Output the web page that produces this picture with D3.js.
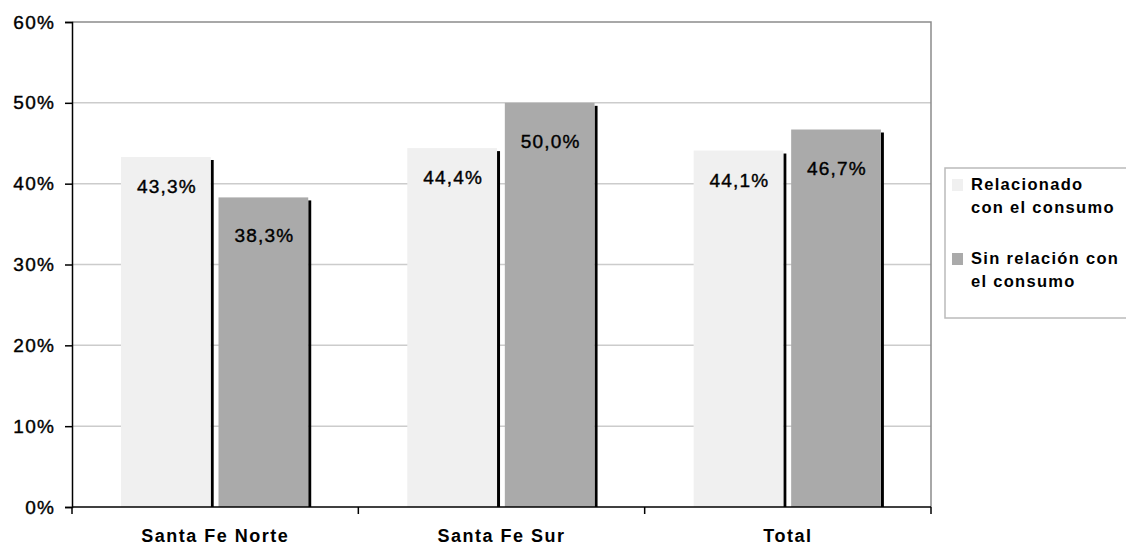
<!DOCTYPE html>
<html>
<head>
<meta charset="utf-8">
<script src="https://cdn.jsdelivr.net/npm/d3@7"></script>
<style>
  body { margin: 0; background: #fff; }
  text { font-family: "Liberation Sans", Arial, sans-serif; fill: #000; }
</style>
</head>
<body>
<div id="canvas"></div>
<script>
const categories = ["Santa Fe Norte", "Santa Fe Sur", "Total"];
const seriesNames = ["Relacionado con el consumo", "Sin relación con el consumo"];
const legendLines = [["Relacionado", "con el consumo"], ["Sin relación con", "el consumo"]];
const relacionado = [43.3, 44.4, 44.1];
const sinRelacion = [38.3, 50.0, 46.7];
const yTicks = [0, 10, 20, 30, 40, 50, 60];

const colors = ["#f0f0f0", "#aaaaaa"];
const labelOffset = [36, 45];

const width = 1126, height = 547;
const plotLeft = 72, plotRight = 931, plotTop = 22, plotBottom = 507;

const svg = d3.select("#canvas").append("svg")
    .attr("width", width)
    .attr("height", height);

const x0 = d3.scaleBand()
    .domain(categories)
    .range([plotLeft, plotRight]);

const x1 = d3.scaleBand()
    .domain(d3.range(seriesNames.length))
    .range([x0.bandwidth() * 0.171, x0.bandwidth() * 0.825])
    .paddingInner(0.08);

const y = d3.scaleLinear()
    .domain([0, 60])
    .range([plotBottom, plotTop]);

const locale = d3.formatLocale({ decimal: ",", thousands: ".", grouping: [3], currency: ["", ""] });
const fmt = locale.format(".1f");

// gridlines
svg.append("g")
    .selectAll("line")
    .data(yTicks.filter(d => d > 0 && d < 60))
    .join("line")
    .attr("x1", plotLeft)
    .attr("x2", plotRight)
    .attr("y1", d => y(d))
    .attr("y2", d => y(d))
    .attr("stroke", "#cccccc")
    .attr("stroke-width", 1.5);

// plot border top/right
svg.append("path")
    .attr("d", `M${plotLeft},${y(60)}H${plotRight}V${plotBottom}`)
    .attr("fill", "none")
    .attr("stroke", "#8c8c8c")
    .attr("stroke-width", 1.5);

const data = categories.map((c, i) => ({ cat: c, values: [relacionado[i], sinRelacion[i]] }));

const groups = svg.append("g")
    .selectAll("g")
    .data(data)
    .join("g")
    .attr("transform", d => `translate(${x0(d.cat)},0)`);

const bars = groups.selectAll("g.bar")
    .data(d => d.values.map((v, s) => ({ v: v, s: s })))
    .join("g")
    .attr("class", "bar");

// shadow on right side
bars.append("rect")
    .attr("x", d => x1(d.s) + x1.bandwidth())
    .attr("y", d => y(d.v) + 3)
    .attr("width", 3)
    .attr("height", d => plotBottom - y(d.v) - 3)
    .attr("fill", "#000");

bars.append("rect")
    .attr("x", d => x1(d.s))
    .attr("y", d => y(d.v))
    .attr("width", x1.bandwidth())
    .attr("height", d => plotBottom - y(d.v))
    .attr("fill", d => colors[d.s]);

bars.append("text")
    .attr("x", d => x1(d.s) + x1.bandwidth() / 2 + 1)
    .attr("y", d => y(d.v) + labelOffset[d.s])
    .attr("text-anchor", "middle")
    .style("font-size", "19px")
    .style("letter-spacing", "1.2px")
    .style("stroke", "#000")
    .style("stroke-width", "0.4px")
    .text(d => fmt(d.v) + "%");

// y axis
const yAxis = svg.append("g")
    .attr("transform", `translate(${plotLeft},0)`)
    .call(d3.axisLeft(y).tickValues(yTicks).tickSize(7).tickPadding(10).tickFormat(d => d + "%"));
yAxis.select(".domain").attr("stroke", "#000").attr("stroke-width", 1.5);
yAxis.selectAll(".tick line").attr("stroke", "#000").attr("stroke-width", 1.5);
yAxis.selectAll(".tick text")
    .style("font-size", "19px")
    .style("letter-spacing", "1.2px")
    .style("font-family", "Liberation Sans, Arial, sans-serif")
    .style("stroke", "#000")
    .style("stroke-width", "0.4px")
    .attr("fill", "#000");

// x axis
const xAxis = svg.append("g")
    .attr("transform", `translate(0,${plotBottom})`);
xAxis.append("line")
    .attr("x1", plotLeft)
    .attr("x2", plotRight)
    .attr("stroke", "#000")
    .attr("stroke-width", 1.5);
xAxis.selectAll("line.tk")
    .data(categories.map(c => x0(c)).concat([plotRight]))
    .join("line")
    .attr("class", "tk")
    .attr("x1", d => d)
    .attr("x2", d => d)
    .attr("y1", 0)
    .attr("y2", 7)
    .attr("stroke", "#000")
    .attr("stroke-width", 1.5);
xAxis.selectAll("text")
    .data(categories)
    .join("text")
    .attr("x", d => x0(d) + x0.bandwidth() / 2)
    .attr("y", 35)
    .attr("text-anchor", "middle")
    .style("font-size", "18px")
    .style("font-weight", "bold")
    .style("letter-spacing", "1.5px")
    .text(d => d);

// legend
const legend = svg.append("g");
legend.append("rect")
    .attr("x", 945)
    .attr("y", 168)
    .attr("width", 185)
    .attr("height", 150)
    .attr("fill", "#fff")
    .attr("stroke", "#bbbbbb")
    .attr("stroke-width", 1.5);

const items = legend.selectAll("g")
    .data(seriesNames)
    .join("g")
    .attr("transform", (d, i) => `translate(952,${179 + i * 74})`);

items.append("rect")
    .attr("width", 11)
    .attr("height", 12)
    .attr("fill", (d, i) => colors[i]);

items.append("text")
    .style("font-size", "16.5px")
    .style("font-weight", "bold")
    .style("letter-spacing", "1.3px")
    .selectAll("tspan")
    .data((d, i) => legendLines[i])
    .join("tspan")
    .attr("x", 19)
    .attr("y", (d, j) => 11 + j * 23)
    .text(d => d);
</script>
</body>
</html>
